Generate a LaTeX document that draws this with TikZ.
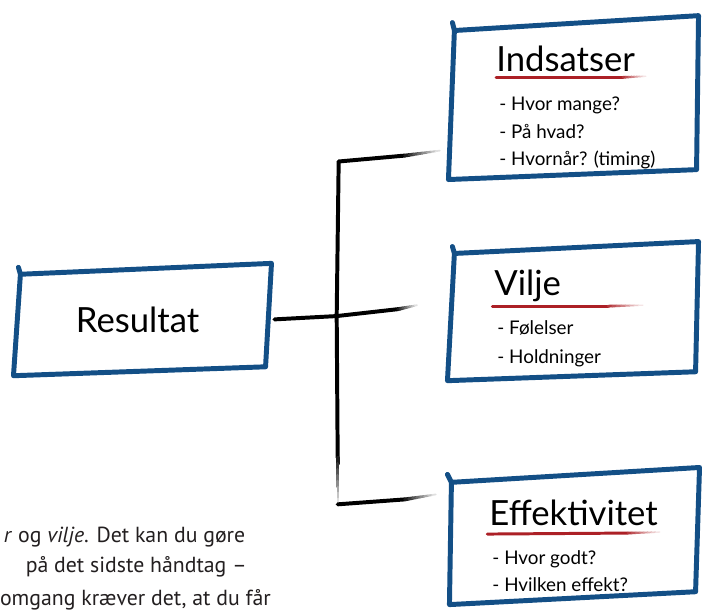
\documentclass[tikz,border=0pt]{standalone}
\usepackage{fontspec}
\setmainfont{PT Sans}
\newfontfamily\handfont{Lato}
\usetikzlibrary{calc}
\definecolor{boxblue}{RGB}{19,79,134}
\definecolor{linered}{RGB}{172,32,38}
\definecolor{bodygray}{RGB}{35,31,32}
% brush end of a stroke: colour, width, from, to
\newcommand\fadetail[4]{%
  \foreach \k in {1,...,8}{%
    \pgfmathtruncatemacro\tailtone{100-11*\k}%
    \pgfmathsetmacro\tailw{#2*(1-0.07*\k)}%
    \pgfmathsetmacro\tailA{(\k-1)/8}%
    \pgfmathsetmacro\tailB{\k/8}%
    \draw[line width=\tailw pt,line cap=round,color=#1!\tailtone] ($#3!\tailA!#4$) -- ($#3!\tailB!#4$);
  }}
\begin{document}
\begin{tikzpicture}[x=1pt,y=-1pt,
    boxline/.style={draw=boxblue,line width=5pt,line cap=round,line join=round},
    stroke/.style={draw=black,line width=4pt,line cap=round,line join=round},
    ul/.style={draw=linered,line width=3pt,line cap=round},
    title/.style={font=\handfont\fontsize{35}{37}\selectfont,anchor=base west,inner sep=0pt},
    item/.style={font=\handfont\fontsize{19}{21}\selectfont,anchor=base west,inner sep=0pt},
    body/.style={font=\fontsize{22}{26}\selectfont,text=bodygray,anchor=base west,inner sep=0pt}]
  \path[fill=white] (0,0) rectangle (702,613);

  % boxes
  \begin{scope}[every node/.style={inner sep=0pt}]
    \node[minimum width=270,minimum height=113,font=\handfont\fontsize{35}{37}\selectfont] (res) at (135,322.5) {Resultat};
    \node[minimum width=252,minimum height=165] (ind) at (575,98.5) {};
    \node[minimum width=253,minimum height=140] (vil) at (574.5,314) {};
    \node[minimum width=254,minimum height=138] (eff) at (575,541) {};
  \end{scope}
  \draw[boxline] ([shift={(15,4)}]res.north west) -- ([shift={(17,11)}]res.north west)
    -- ([shift={(10,0)}]res.south west) -- ([shift={(-6,-9)}]res.south east)
    -- (res.north east) -- ([shift={(17,11)}]res.north west);
  \draw[boxline] ([shift={(4,7)}]ind.north west) -- ([shift={(6,15)}]ind.north west)
    -- (ind.south west) -- ([shift={(-2,-10)}]ind.south east)
    -- (ind.north east) -- ([shift={(6,15)}]ind.north west);
  \draw[boxline] ([shift={(5,5)}]vil.north west) -- ([shift={(7,12)}]vil.north west)
    -- (vil.south west) -- ([shift={(-3,-9)}]vil.south east)
    -- (vil.north east) -- ([shift={(7,12)}]vil.north west);
  \draw[boxline] ([shift={(0,7)}]eff.north west) -- ([shift={(4,15)}]eff.north west)
    -- ([shift={(2,0)}]eff.south west) -- ([shift={(-4,-13)}]eff.south east)
    -- (eff.north east) -- ([shift={(4,15)}]eff.north west);

  % box texts
  \node[title] (indt) at (497,72) {Indsatser};
  \node[title] (vilt) at (495,298) {Vilje};
  \node[title] (efft) at (490,530) {Effektivitet};
  \foreach \t [count=\i] in {Hvor mange?, På hvad?, {Hvornår? (timing)}}
    \node[item] (ind-\i) at (500,84.5+27.5*\i) {- \t};
  \foreach \t [count=\i] in {Følelser, Holdninger}
    \node[item] (vil-\i) at (498,309+29*\i) {- \t};
  \foreach \t [count=\i] in {Hvor godt?, Hvilken effekt?}
    \node[item] (eff-\i) at (493,543+27*\i) {- \t};

  % red underlines
  \draw[ul] (497,78) -- (625,78);
  \fadetail{linered}{3}{(625,78)}{(648,77)}
  \draw[ul] (493,309) -- (610,309);
  \fadetail{linered}{3}{(610,309)}{(645,308)}
  \draw[ul] (488,539) -- (630,538);
  \fadetail{linered}{3}{(630,538)}{(662,537)}

  % connectors
  \coordinate (tt) at (338,163);
  \coordinate (tm) at (336,319);
  \coordinate (tl) at (337,462);
  \coordinate (tb) at (337,509);
  \coordinate (b1) at (405,157);
  \coordinate (e1) at (440,152);
  \coordinate (b2) at (398,312);
  \coordinate (e2) at (417,308);
  \coordinate (b3) at (405,504);
  \coordinate (e3) at (436,499);
  \draw[stroke,shorten <=3pt] (res.east) -- (tm) -- (b2);
  \fadetail{black}{4}{(b2)}{(e2)}
  \draw[stroke] (tt) -- (tm) -- (tl);
  \fadetail{black}{4}{(tl)}{(tb)}
  \draw[stroke] (tt) -- (b1);
  \fadetail{black}{4}{(b1)}{(e1)}
  \draw[stroke] (tb) -- (b3);
  \fadetail{black}{4}{(b3)}{(e3)}

  % body text
  \node[body] (line1) at (0,548) {\textit{r} og \textit{vilje}. Det kan du gøre};
  \node[body] (line2) at (22,578) {på det sidste håndtag –};
  \node[body] (line3) at (-4,611) {omgang kræver det, at du får};
\end{tikzpicture}
\end{document}
